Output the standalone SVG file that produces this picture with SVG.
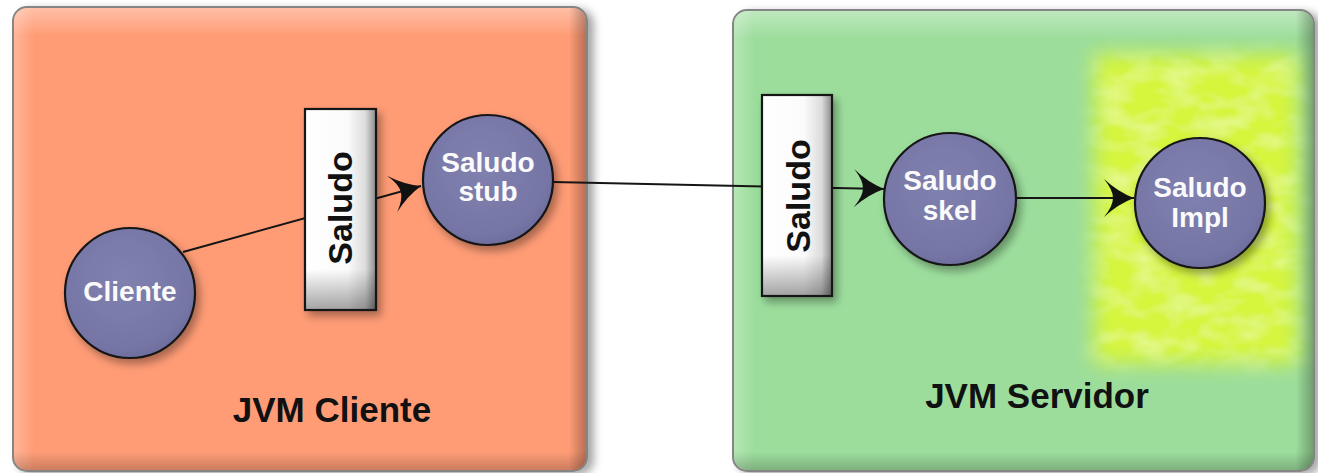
<svg xmlns="http://www.w3.org/2000/svg" width="1318" height="473" viewBox="0 0 1318 473">
  <style>
    .panel-label { font-family: "Liberation Sans", Arial, sans-serif; font-weight: bold; font-size: 35px; fill: #111; text-anchor: middle; }
    .node-label { font-family: "Liberation Sans", Arial, sans-serif; font-weight: bold; font-size: 28px; fill: #fafafa; text-anchor: middle; }
    .iface-label { font-family: "Liberation Sans", Arial, sans-serif; font-weight: bold; font-size: 34px; fill: #111; text-anchor: middle; }
    .ball { fill: url(#ballFill); stroke: #151515; stroke-width: 2.2; filter: url(#softShadow); }
    .iface { fill: url(#ifaceFill); stroke: #151515; stroke-width: 2.2; filter: url(#softShadow); }
    .wire { fill: none; stroke: #151515; stroke-width: 2; }
    .frame { stroke: #858585; stroke-width: 2; filter: url(#panelShadow); }
  </style>
  <defs>
    <marker id="barb" viewBox="-32 -21 34 42" markerWidth="34" markerHeight="42" refX="0" refY="0" orient="auto" markerUnits="userSpaceOnUse">
      <path d="M0,0 Q-16,-6 -30,-19 Q-21,-8 -21,0 Q-21,8 -30,19 Q-16,6 0,0 Z" fill="#111"/>
    </marker>
    <radialGradient id="ballFill" cx="0.45" cy="0.4" r="0.65">
      <stop offset="0" stop-color="#8181b0"/>
      <stop offset="0.8" stop-color="#7676a6"/>
      <stop offset="1" stop-color="#6a6a9a"/>
    </radialGradient>
    <linearGradient id="ifaceFill" x1="0" y1="0" x2="1" y2="0">
      <stop offset="0" stop-color="#ffffff"/>
      <stop offset="0.6" stop-color="#fbfbfb"/>
      <stop offset="0.85" stop-color="#dcdcdc"/>
      <stop offset="1" stop-color="#8a8a8a"/>
    </linearGradient>
    <linearGradient id="ifaceBottom" x1="0" y1="0" x2="0" y2="1">
      <stop offset="0.8" stop-color="#000" stop-opacity="0"/>
      <stop offset="1" stop-color="#000" stop-opacity="0.35"/>
    </linearGradient>
    <linearGradient id="topGlow" x1="0" y1="0" x2="0" y2="1">
      <stop offset="0" stop-color="#fff" stop-opacity="0.35"/>
      <stop offset="0.06" stop-color="#fff" stop-opacity="0"/>
    </linearGradient>
    <linearGradient id="leftGlow" x1="0" y1="0" x2="1" y2="0">
      <stop offset="0" stop-color="#fff" stop-opacity="0.25"/>
      <stop offset="0.035" stop-color="#fff" stop-opacity="0"/>
      <stop offset="0.97" stop-color="#000" stop-opacity="0"/>
      <stop offset="1" stop-color="#000" stop-opacity="0.28"/>
    </linearGradient>
    <linearGradient id="bottomShade" x1="0" y1="0" x2="0" y2="1">
      <stop offset="0.96" stop-color="#000" stop-opacity="0"/>
      <stop offset="1" stop-color="#000" stop-opacity="0.2"/>
    </linearGradient>
    <filter id="panelShadow" x="-5%" y="-5%" width="112%" height="112%">
      <feDropShadow dx="6" dy="3" stdDeviation="4" flood-color="#000" flood-opacity="0.35"/>
    </filter>
    <filter id="softShadow" x="-20%" y="-20%" width="150%" height="150%">
      <feDropShadow dx="4" dy="5" stdDeviation="4" flood-color="#000" flood-opacity="0.35"/>
    </filter>
    <!-- soft-edged yellow field with faint fibrous streaks -->
    <filter id="fuzz" x="-15%" y="-15%" width="130%" height="130%">
      <feGaussianBlur in="SourceGraphic" stdDeviation="10" result="soft"/>
      <feTurbulence type="fractalNoise" baseFrequency="0.03 0.06" numOctaves="3" seed="7" result="noise"/>
      <feColorMatrix in="noise" type="matrix" values="0 0 0 0 0.9  0 0 0 0 0.98  0 0 0 0 0.5  1.1 0 0 0 -0.45" result="streaks"/>
      <feGaussianBlur in="streaks" stdDeviation="1.5" result="streaksSoft"/>
      <feComposite in="streaksSoft" in2="soft" operator="in" result="streaksIn"/>
      <feMerge>
        <feMergeNode in="soft"/>
        <feMergeNode in="streaksIn"/>
      </feMerge>
    </filter>
  </defs>

  <!-- client JVM -->
  <g id="jvm-cliente">
    <rect class="frame" x="13" y="7" width="574" height="464" rx="14" fill="#ff9c76"/>
    <rect x="14" y="8" width="572" height="462" rx="13" fill="url(#topGlow)"/>
    <rect x="14" y="8" width="572" height="462" rx="13" fill="url(#leftGlow)"/>
    <rect x="14" y="8" width="572" height="462" rx="13" fill="url(#bottomShade)"/>
    <text class="panel-label" x="332" y="422">JVM Cliente</text>
  </g>

  <!-- server JVM -->
  <g id="jvm-servidor">
    <rect class="frame" x="733" y="10" width="581" height="461" rx="14" fill="#9cdd9c"/>
    <rect x="734" y="11" width="579" height="459" rx="13" fill="url(#topGlow)"/>
    <rect x="734" y="11" width="579" height="459" rx="13" fill="url(#leftGlow)"/>
    <rect x="734" y="11" width="579" height="459" rx="13" fill="url(#bottomShade)"/>
    <rect id="impl-zone" x="1094" y="54" width="204" height="310" fill="#d6f53e" filter="url(#fuzz)"/>
    <text class="panel-label" x="1037" y="408">JVM Servidor</text>
  </g>

  <!-- connectors -->
  <g id="connectors">
    <line class="wire" x1="183" y1="252" x2="421" y2="186" marker-end="url(#barb)"/>
    <line class="wire" x1="553" y1="182" x2="884" y2="189" marker-end="url(#barb)"/>
    <line class="wire" x1="1016" y1="198" x2="1134" y2="198" marker-end="url(#barb)"/>
  </g>

  <!-- nodes -->
  <g id="cliente">
    <circle class="ball" cx="130" cy="293" r="65"/>
    <text class="node-label" x="130" y="301">Cliente</text>
  </g>

  <g id="saludo-cliente">
    <rect class="iface" x="305" y="109" width="71" height="201"/>
    <rect x="306" y="110" width="69" height="199" fill="url(#ifaceBottom)"/>
    <text class="iface-label" transform="translate(352,208) rotate(-90)">Saludo</text>
  </g>

  <g id="saludo-stub">
    <circle class="ball" cx="488" cy="180" r="65"/>
    <text class="node-label" x="488" y="172">Saludo</text>
    <text class="node-label" x="488" y="201">stub</text>
  </g>

  <g id="saludo-servidor">
    <rect class="iface" x="762" y="95" width="70" height="201"/>
    <rect x="763" y="96" width="68" height="199" fill="url(#ifaceBottom)"/>
    <text class="iface-label" transform="translate(810,196) rotate(-90)">Saludo</text>
  </g>

  <g id="saludo-skel">
    <circle class="ball" cx="950" cy="199" r="66"/>
    <text class="node-label" x="950" y="190">Saludo</text>
    <text class="node-label" x="950" y="220">skel</text>
  </g>

  <g id="saludo-impl">
    <circle class="ball" cx="1200" cy="203" r="65"/>
    <text class="node-label" x="1200" y="197">Saludo</text>
    <text class="node-label" x="1200" y="227">Impl</text>
  </g>
</svg>
